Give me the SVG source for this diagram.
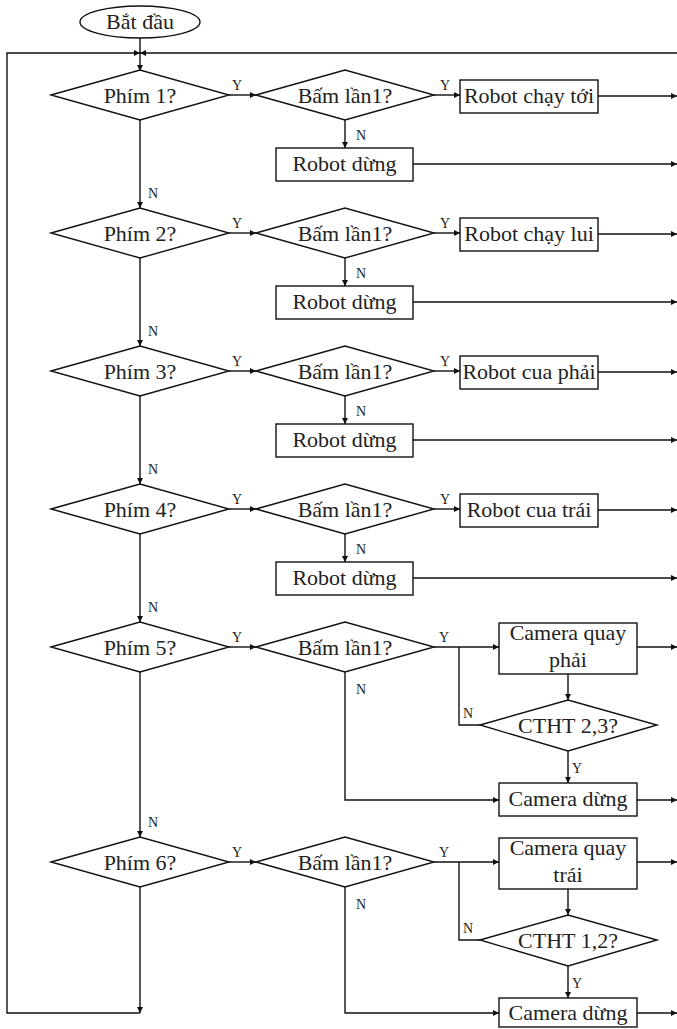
<svg xmlns="http://www.w3.org/2000/svg" width="677" height="1029" viewBox="0 0 677 1029">
<style>
.s{fill:#fff;stroke:#111;stroke-width:1.4}
.c{fill:none;stroke:#111;stroke-width:1.4}
.t{font-family:"Liberation Serif","Times New Roman",serif;font-size:22px;fill:#222;text-anchor:middle}
.l{font-family:"Liberation Serif","Times New Roman",serif;font-size:14px;fill:#222}
</style>
<defs>
<marker id="a" viewBox="0 0 10 10" refX="10" refY="5" markerWidth="7" markerHeight="6" orient="auto" markerUnits="userSpaceOnUse"><path d="M0,0 L10,5 L0,10 z" fill="#111"/></marker>
</defs>
<rect width="677" height="1029" fill="#fff"/>
<g id="connectors">
<path class="c" d="M140,37 V71" marker-end="url(#a)"/>
<path class="c" d="M140,1013 H7 V53 H140" marker-end="url(#a)"/>
<path class="c" d="M677,53 H140" marker-end="url(#a)"/>
<path class="c" d="M229,95 H256" marker-end="url(#a)"/>
<path class="c" d="M434,95 H460" marker-end="url(#a)"/>
<path class="c" d="M598,96 H677" marker-end="url(#a)"/>
<path class="c" d="M345,120 V148" marker-end="url(#a)"/>
<path class="c" d="M413,164 H677" marker-end="url(#a)"/>
<path class="c" d="M140,120 V208" marker-end="url(#a)"/>
<path class="c" d="M229,233 H256" marker-end="url(#a)"/>
<path class="c" d="M434,233 H460" marker-end="url(#a)"/>
<path class="c" d="M598,234 H677" marker-end="url(#a)"/>
<path class="c" d="M345,258 V286" marker-end="url(#a)"/>
<path class="c" d="M413,302 H677" marker-end="url(#a)"/>
<path class="c" d="M140,258 V346" marker-end="url(#a)"/>
<path class="c" d="M229,371 H256" marker-end="url(#a)"/>
<path class="c" d="M434,371 H460" marker-end="url(#a)"/>
<path class="c" d="M598,372 H677" marker-end="url(#a)"/>
<path class="c" d="M345,396 V424" marker-end="url(#a)"/>
<path class="c" d="M413,440 H677" marker-end="url(#a)"/>
<path class="c" d="M140,396 V484" marker-end="url(#a)"/>
<path class="c" d="M229,509 H256" marker-end="url(#a)"/>
<path class="c" d="M434,509 H460" marker-end="url(#a)"/>
<path class="c" d="M598,510 H677" marker-end="url(#a)"/>
<path class="c" d="M345,534 V562" marker-end="url(#a)"/>
<path class="c" d="M413,578 H677" marker-end="url(#a)"/>
<path class="c" d="M140,534 V622" marker-end="url(#a)"/>
<path class="c" d="M229,647 H256" marker-end="url(#a)"/>
<path class="c" d="M434,647 H499" marker-end="url(#a)"/>
<path class="c" d="M459,647 V725 H480"/>
<path class="c" d="M637,647 H677" marker-end="url(#a)"/>
<path class="c" d="M568,674 V700" marker-end="url(#a)"/>
<path class="c" d="M568,751 V783" marker-end="url(#a)"/>
<path class="c" d="M345,672 V800 H499" marker-end="url(#a)"/>
<path class="c" d="M637,800 H677" marker-end="url(#a)"/>
<path class="c" d="M140,672 V837" marker-end="url(#a)"/>
<path class="c" d="M229,862 H256" marker-end="url(#a)"/>
<path class="c" d="M434,862 H499" marker-end="url(#a)"/>
<path class="c" d="M459,862 V940 H480"/>
<path class="c" d="M637,862 H677" marker-end="url(#a)"/>
<path class="c" d="M568,889 V915" marker-end="url(#a)"/>
<path class="c" d="M568,966 V998" marker-end="url(#a)"/>
<path class="c" d="M345,887 V1013 H499" marker-end="url(#a)"/>
<path class="c" d="M637,1013 H677" marker-end="url(#a)"/>
<path class="c" d="M140,887 V1013" marker-end="url(#a)"/>
</g>
<g id="labels">
<text class="l" x="232" y="90">Y</text>
<text class="l" x="440" y="90">Y</text>
<text class="l" x="356" y="140">N</text>
<text class="l" x="148" y="198">N</text>
<text class="l" x="232" y="228">Y</text>
<text class="l" x="440" y="228">Y</text>
<text class="l" x="356" y="278">N</text>
<text class="l" x="148" y="336">N</text>
<text class="l" x="232" y="366">Y</text>
<text class="l" x="440" y="366">Y</text>
<text class="l" x="356" y="416">N</text>
<text class="l" x="148" y="474">N</text>
<text class="l" x="232" y="504">Y</text>
<text class="l" x="440" y="504">Y</text>
<text class="l" x="356" y="554">N</text>
<text class="l" x="148" y="612">N</text>
<text class="l" x="232" y="642">Y</text>
<text class="l" x="439" y="642">Y</text>
<text class="l" x="356" y="694">N</text>
<text class="l" x="463" y="718">N</text>
<text class="l" x="572" y="773">Y</text>
<text class="l" x="148" y="827">N</text>
<text class="l" x="232" y="857">Y</text>
<text class="l" x="439" y="857">Y</text>
<text class="l" x="356" y="909">N</text>
<text class="l" x="463" y="933">N</text>
<text class="l" x="572" y="988">Y</text>
</g>
<g id="start"><ellipse class="s" cx="140" cy="22" rx="60" ry="16"/><text class="t" x="140" y="29">Bắt đầu</text></g>
<g id="phim1"><polygon class="s" points="51,95 140,70 229,95 140,120"/><text class="t" x="140" y="103">Phím 1?</text></g>
<g id="bam1"><polygon class="s" points="256,95 345,70 434,95 345,120"/><text class="t" x="345" y="103">Bấm lần1?</text></g>
<g id="toi"><rect class="s" x="460" y="80" width="138" height="33"/><text class="t" x="529" y="103">Robot chạy tới</text></g>
<g id="dung1"><rect class="s" x="276" y="148" width="137" height="33"/><text class="t" x="344.5" y="171">Robot dừng</text></g>
<g id="phim2"><polygon class="s" points="51,233 140,208 229,233 140,258"/><text class="t" x="140" y="241">Phím 2?</text></g>
<g id="bam2"><polygon class="s" points="256,233 345,208 434,233 345,258"/><text class="t" x="345" y="241">Bấm lần1?</text></g>
<g id="lui"><rect class="s" x="460" y="218" width="138" height="33"/><text class="t" x="529" y="241">Robot chạy lui</text></g>
<g id="dung2"><rect class="s" x="276" y="286" width="137" height="33"/><text class="t" x="344.5" y="309">Robot dừng</text></g>
<g id="phim3"><polygon class="s" points="51,371 140,346 229,371 140,396"/><text class="t" x="140" y="379">Phím 3?</text></g>
<g id="bam3"><polygon class="s" points="256,371 345,346 434,371 345,396"/><text class="t" x="345" y="379">Bấm lần1?</text></g>
<g id="phai"><rect class="s" x="460" y="356" width="138" height="33"/><text class="t" x="529" y="379">Robot cua phải</text></g>
<g id="dung3"><rect class="s" x="276" y="424" width="137" height="33"/><text class="t" x="344.5" y="447">Robot dừng</text></g>
<g id="phim4"><polygon class="s" points="51,509 140,484 229,509 140,534"/><text class="t" x="140" y="517">Phím 4?</text></g>
<g id="bam4"><polygon class="s" points="256,509 345,484 434,509 345,534"/><text class="t" x="345" y="517">Bấm lần1?</text></g>
<g id="trai"><rect class="s" x="460" y="494" width="138" height="33"/><text class="t" x="529" y="517">Robot cua trái</text></g>
<g id="dung4"><rect class="s" x="276" y="562" width="137" height="33"/><text class="t" x="344.5" y="585">Robot dừng</text></g>
<g id="phim5"><polygon class="s" points="51,647 140,622 229,647 140,672"/><text class="t" x="140" y="655">Phím 5?</text></g>
<g id="bam5"><polygon class="s" points="256,647 345,622 434,647 345,672"/><text class="t" x="345" y="655">Bấm lần1?</text></g>
<g id="camphai"><rect class="s" x="499" y="623" width="138" height="51"/><text class="t" x="568" y="640">Camera quay</text><text class="t" x="568" y="667">phải</text></g>
<g id="ctht23"><polygon class="s" points="480,725 568,700 657,725 568,751"/><text class="t" x="568" y="733">CTHT 2,3?</text></g>
<g id="camdung5"><rect class="s" x="499" y="783" width="138" height="33"/><text class="t" x="568" y="806">Camera dừng</text></g>
<g id="phim6"><polygon class="s" points="51,862 140,837 229,862 140,887"/><text class="t" x="140" y="870">Phím 6?</text></g>
<g id="bam6"><polygon class="s" points="256,862 345,837 434,862 345,887"/><text class="t" x="345" y="870">Bấm lần1?</text></g>
<g id="camtrai"><rect class="s" x="499" y="838" width="138" height="51"/><text class="t" x="568" y="855">Camera quay</text><text class="t" x="568" y="882">trái</text></g>
<g id="ctht12"><polygon class="s" points="480,940 568,915 657,940 568,966"/><text class="t" x="568" y="948">CTHT 1,2?</text></g>
<g id="camdung6"><rect class="s" x="499" y="998" width="138" height="29"/><text class="t" x="568" y="1020">Camera dừng</text></g>
</svg>
